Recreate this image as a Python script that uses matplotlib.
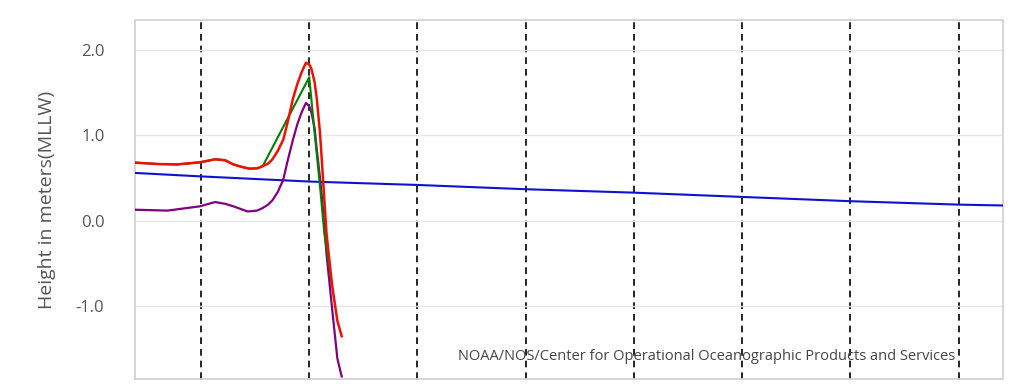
import matplotlib
matplotlib.use("Agg")
import matplotlib.pyplot as plt

plt.rcParams["font.family"] = ["Open Sans", "DejaVu Sans"]

# x in days from first dashed line
red_x = [-0.60, -0.40, -0.22, -0.01, 0.13, 0.22, 0.30, 0.38, 0.45, 0.52, 0.57, 0.62, 0.66, 0.71, 0.76, 0.80, 0.85, 0.89, 0.93, 0.97, 1.00, 1.02, 1.05, 1.07, 1.10, 1.12, 1.14, 1.16, 1.21, 1.26, 1.30]
red_y = [0.68, 0.665, 0.66, 0.685, 0.72, 0.71, 0.66, 0.63, 0.61, 0.615, 0.64, 0.67, 0.72, 0.82, 0.95, 1.15, 1.43, 1.60, 1.74, 1.85, 1.83, 1.78, 1.62, 1.43, 1.02, 0.64, 0.24, -0.15, -0.74, -1.17, -1.35]

green_x = [-0.60, -0.40, -0.22, -0.01, 0.13, 0.22, 0.30, 0.38, 0.45, 0.52, 0.57, 1.00, 1.05, 1.10, 1.14, 1.21]
green_y = [0.68, 0.665, 0.66, 0.685, 0.72, 0.71, 0.66, 0.63, 0.61, 0.615, 0.64, 1.68, 1.03, 0.40, -0.15, -0.75]

purple_x = [-0.60, -0.31, -0.01, 0.13, 0.22, 0.30, 0.43, 0.52, 0.57, 0.62, 0.66, 0.71, 0.76, 0.80, 0.85, 0.89, 0.93, 0.97, 1.00, 1.02, 1.05, 1.07, 1.10, 1.12, 1.16, 1.22, 1.26, 1.30]
purple_y = [0.13, 0.12, 0.17, 0.22, 0.20, 0.17, 0.11, 0.12, 0.15, 0.19, 0.24, 0.34, 0.48, 0.70, 0.95, 1.13, 1.27, 1.38, 1.34, 1.27, 1.08, 0.83, 0.50, 0.24, -0.39, -1.13, -1.61, -1.82]

blue_x = [-0.60, 0, 1, 2, 3, 4, 5, 6, 7, 7.4]
blue_y = [0.56, 0.52, 0.46, 0.42, 0.37, 0.33, 0.28, 0.23, 0.19, 0.18]

day_lines = [0, 1, 2, 3, 4, 5, 6, 7]
y_ticks = [-1.0, 0.0, 1.0, 2.0]
y_labels = ["-1.0", "0.0", "1.0", "2.0"]

fig = plt.figure(figsize=(10.24, 3.84), dpi=100)
ax = fig.add_axes([0.1318, 0.013, 0.8477, 0.935])

for d in day_lines:
    ax.axvline(d, color="black", linestyle=(0, (4, 3)), linewidth=1.2, zorder=1)

ax.plot(blue_x, blue_y, color="#1010d0", linewidth=1.5, zorder=3)
ax.plot(purple_x, purple_y, color="#800080", linewidth=1.6, zorder=3)
ax.plot(green_x, green_y, color="#008000", linewidth=1.5, zorder=3)
ax.plot(red_x, red_y, color="#ee1100", linewidth=1.8, zorder=4)

ax.set_xlim(-0.61, 7.41)
ax.set_ylim(-1.85, 2.35)
ax.set_yticks(y_ticks)
ax.set_yticklabels(y_labels)
ax.set_xticks([])
ax.grid(True, axis="y", color="#e6e6e6", linewidth=1, zorder=0)
ax.tick_params(axis="y", length=0, pad=22, labelsize=12, labelcolor="#555555")
for s in ax.spines.values():
    s.set_color("#d0d0d0")
    s.set_linewidth(1.2)

ax.set_ylabel("Height in meters(MLLW)", fontsize=14, color="#555555", labelpad=14)
ax.text(0.945, 0.064, "NOAA/NOS/Center for Operational Oceanographic Products and Services",
        transform=ax.transAxes, ha="right", va="center", fontsize=10.5, color="#444444")

fig.savefig("out.png", dpi=100)
